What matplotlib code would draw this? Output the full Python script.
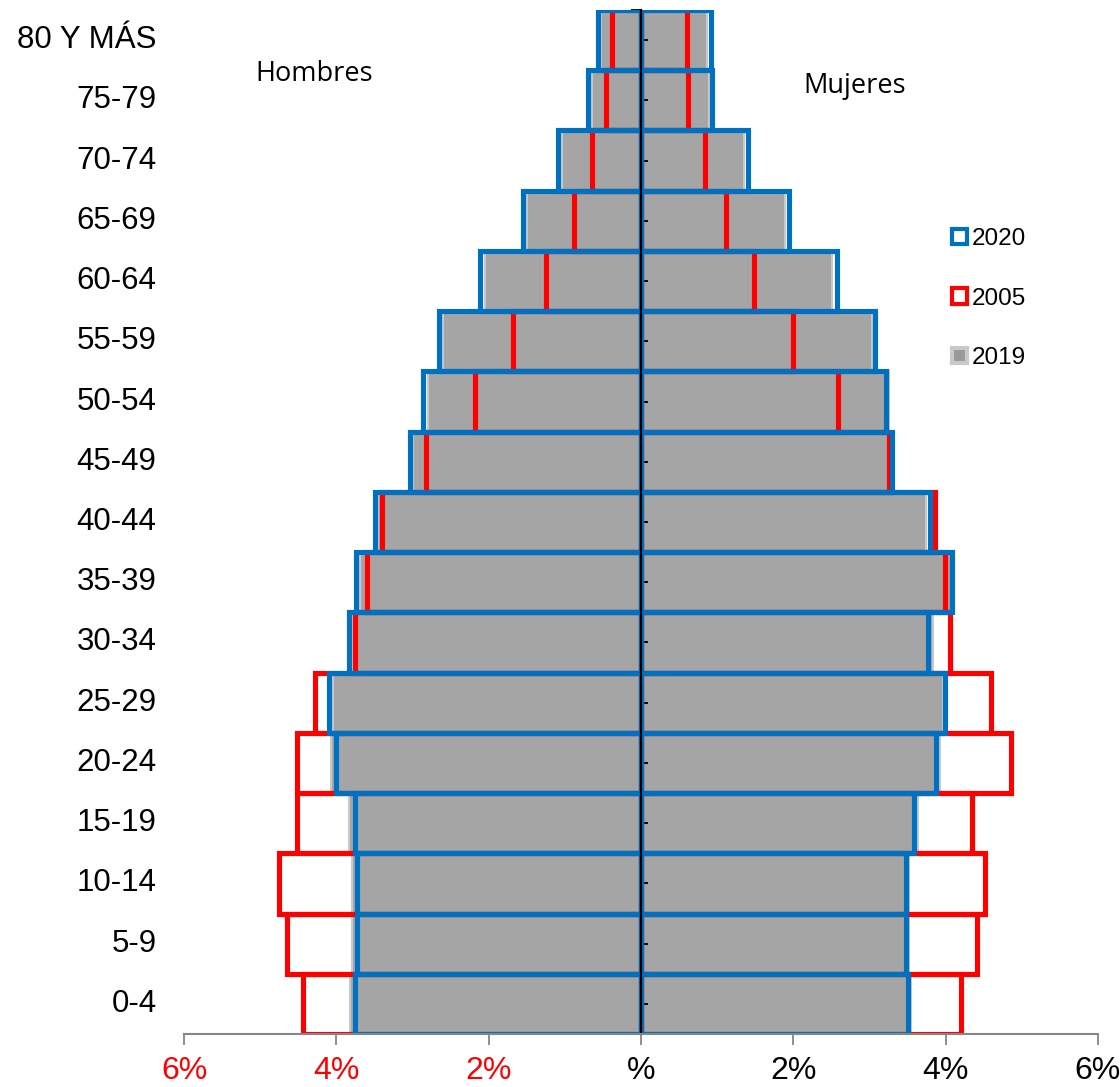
import matplotlib
matplotlib.use("Agg")
import matplotlib.pyplot as plt
import matplotlib.transforms as mtransforms
from matplotlib.patches import Patch
import numpy as np

# Data (bottom to top)
age_groups = ["0-4", "5-9", "10-14", "15-19", "20-24", "25-29", "30-34", "35-39",
              "40-44", "45-49", "50-54", "55-59", "60-64", "65-69", "70-74",
              "75-79", "80 Y MÁS"]

men_2020 = [3.76, 3.73, 3.73, 3.76, 4.00, 4.10, 3.83, 3.74, 3.49, 3.03, 2.86, 2.65,
            2.11, 1.55, 1.09, 0.69, 0.57]
men_2005 = [4.44, 4.65, 4.75, 4.51, 4.51, 4.28, 3.76, 3.60, 3.40, 2.82, 2.18, 1.68,
            1.25, 0.88, 0.64, 0.46, 0.38]
men_2019 = [3.82, 3.80, 3.80, 3.83, 4.07, 4.05, 3.80, 3.69, 3.45, 2.99, 2.80, 2.60,
            2.05, 1.50, 1.04, 0.64, 0.52]

women_2020 = [3.51, 3.48, 3.48, 3.59, 3.87, 3.99, 3.77, 4.08, 3.79, 3.30, 3.22, 3.07,
              2.57, 1.94, 1.41, 0.93, 0.92]
women_2005 = [4.20, 4.41, 4.51, 4.34, 4.86, 4.60, 4.06, 3.99, 3.86, 3.25, 2.58, 1.99,
              1.48, 1.12, 0.84, 0.62, 0.61]
women_2019 = [3.54, 3.52, 3.52, 3.64, 3.92, 3.96, 3.83, 4.11, 3.74, 3.27, 3.25, 3.03,
              2.51, 1.89, 1.35, 0.89, 0.87]

x_ticks = [-6, -4, -2, 0, 2, 4, 6]
x_tick_labels = ["6%", "4%", "2%", "%", "2%", "4%", "6%"]

BLUE = "#0070C0"
RED = "#FF0000"
GRAY = "#A5A5A5"
GRAY_EDGE = "#C9C9C9"

fig = plt.figure(figsize=(11.2, 10.87), dpi=100)
ax = fig.add_axes([184 / 1120, 1 - 1034 / 1087, (1098 - 184) / 1120, (1034 - 10) / 1087])

y = np.arange(len(age_groups))
m19 = -np.array(men_2019)
m05 = -np.array(men_2005)
m20 = -np.array(men_2020)

lw = 3.7
# 2019 gray filled
ax.barh(y, m19, height=1.0, color=GRAY, edgecolor=GRAY_EDGE, linewidth=1.5, zorder=1)
ax.barh(y, women_2019, height=1.0, color=GRAY, edgecolor=GRAY_EDGE, linewidth=1.5, zorder=1)
# 2005 red outline
ax.barh(y, m05, height=1.0, facecolor="none", edgecolor=RED, linewidth=lw, zorder=2)
ax.barh(y, women_2005, height=1.0, facecolor="none", edgecolor=RED, linewidth=lw, zorder=2)
# 2020 blue outline
ax.barh(y, m20, height=1.0, facecolor="none", edgecolor=BLUE, linewidth=lw, zorder=3)
ax.barh(y, women_2020, height=1.0, facecolor="none", edgecolor=BLUE, linewidth=lw, zorder=3)

ax.set_xlim(-6, 6)
ax.set_ylim(-0.5, len(age_groups) - 0.5)

# spines
for s in ["top", "right"]:
    ax.spines[s].set_visible(False)
ax.spines["bottom"].set_color("#868686")
ax.spines["bottom"].set_linewidth(1.5)
ax.spines["bottom"].set_zorder(5)
ax.spines["left"].set_position(("data", 0))
ax.spines["left"].set_color("black")
ax.spines["left"].set_linewidth(1.6)
ax.spines["left"].set_zorder(5)

# x ticks
ax.set_xticks(x_ticks)
ax.set_xticklabels(x_tick_labels, fontsize=23, family="Liberation Sans")
ax.tick_params(axis="x", direction="out", length=8, width=1.3, color="#868686", pad=8)
for lab, v in zip(ax.get_xticklabels(), x_ticks):
    lab.set_color(RED if v < 0 else "black")

# y ticks on central axis
ax.set_yticks(np.arange(-0.5, len(age_groups), 1.0))
ax.set_yticklabels([])
ax.set_yticks(y, minor=True)
ax.tick_params(axis="y", which="major", direction="out", length=7, width=1.3, color="black")
ax.tick_params(axis="y", which="minor", direction="in", length=5, width=1.3, color="black")

# category labels on the far left
trans = mtransforms.blended_transform_factory(ax.transAxes, ax.transData)
for yi, lab in zip(y, age_groups):
    ax.text(-0.03, yi, lab, transform=trans, ha="right", va="center",
            fontsize=22.5, family="Liberation Sans")

ax.text(-4.29, 15.43, "Hombres", ha="center", va="center", fontsize=19.5, family="Open Sans")
ax.text(2.80, 15.23, "Mujeres", ha="center", va="center", fontsize=19.5, family="Open Sans")

handles = [
    Patch(facecolor="white", edgecolor=BLUE, linewidth=3.0, label="2020"),
    Patch(facecolor="white", edgecolor=RED, linewidth=3.0, label="2005"),
    Patch(facecolor="#999999", edgecolor="#C9C9C9", linewidth=3.0, label="2019"),
]
leg = ax.legend(handles=handles, loc="upper left", bbox_to_anchor=(952 / 1120, 1 - 228 / 1087),
                bbox_transform=fig.transFigure, frameon=False,
                prop={"family": "Liberation Sans", "size": 17.5},
                handlelength=0.6, handleheight=0.6, handletextpad=0.2,
                labelspacing=1.55, borderpad=0, borderaxespad=0)

fig.savefig("out.png", dpi=100)
